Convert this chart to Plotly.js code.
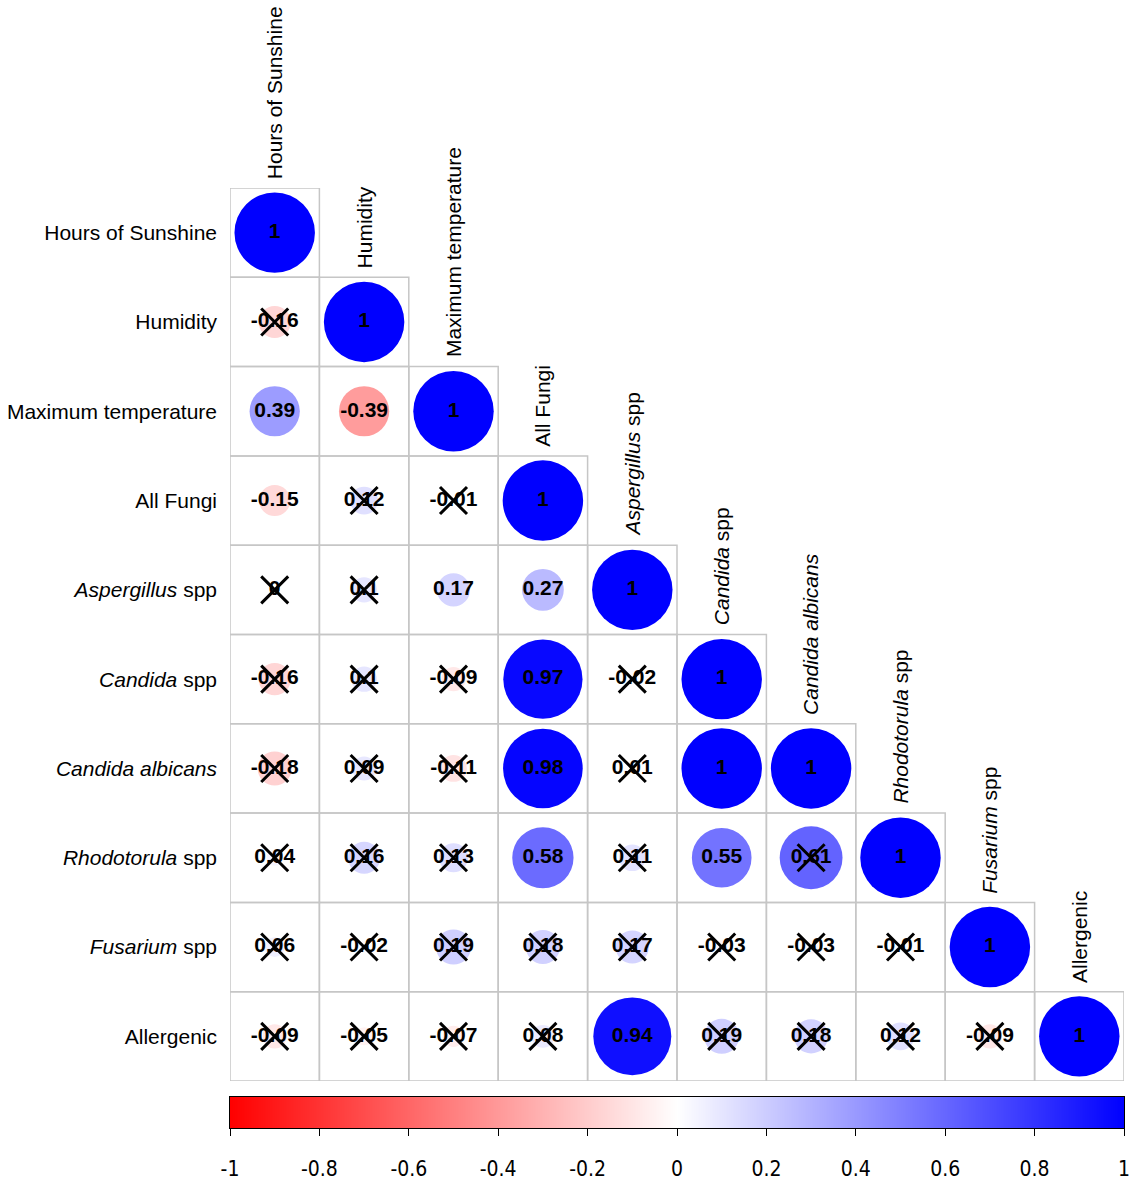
<!DOCTYPE html>
<html>
<head>
<meta charset="utf-8">
<script src="https://cdn.plot.ly/plotly-3.0.1.min.js"></script>
<style>html,body{margin:0;padding:0;background:#fff;}#chart{width:1131px;height:1182px;}</style>
</head>
<body>
<div id="chart"></div>
<script>
// ---- data ----
const variables = [
  "Hours of Sunshine",
  "Humidity",
  "Maximum temperature",
  "All Fungi",
  "<i>Aspergillus</i> spp",
  "<i>Candida</i> spp",
  "<i>Candida albicans</i>",
  "<i>Rhodotorula</i> spp",
  "<i>Fusarium</i> spp",
  "Allergenic"
];

// lower-triangle correlation coefficients (row i, columns 0..i)
const corrRows = [
  [1],
  [-0.16, 1],
  [0.39, -0.39, 1],
  [-0.15, 0.12, -0.01, 1],
  [0, 0.1, 0.17, 0.27, 1],
  [-0.16, 0.1, -0.09, 0.97, -0.02, 1],
  [-0.18, 0.09, -0.11, 0.98, 0.01, 1, 1],
  [0.04, 0.16, 0.13, 0.58, 0.11, 0.55, 0.61, 1],
  [0.06, -0.02, 0.19, 0.18, 0.17, -0.03, -0.03, -0.01, 1],
  [-0.09, -0.05, -0.07, 0.08, 0.94, 0.19, 0.18, 0.12, -0.09, 1]
];

// 1 = not significant (crossed out)
const notSignificant = [
  [0],
  [1, 0],
  [0, 0, 0],
  [0, 1, 1, 0],
  [1, 1, 0, 0, 0],
  [1, 1, 1, 0, 1, 0],
  [1, 1, 1, 0, 1, 0, 0],
  [1, 1, 1, 0, 1, 0, 1, 0],
  [1, 1, 1, 1, 1, 1, 1, 1, 0],
  [1, 1, 1, 1, 0, 1, 1, 1, 1, 0]
];

const colorStops = [-1, 0, 1];
const colorStopColors = ["#FF0000", "#FFFFFF", "#0000FF"];
const colorbarTicks = [-1, -0.8, -0.6, -0.4, -0.2, 0, 0.2, 0.4, 0.6, 0.8, 1];
const colorbarTickLabels = ["-1", "-0.8", "-0.6", "-0.4", "-0.2", "0", "0.2", "0.4", "0.6", "0.8", "1"];

// ---- helpers ----
function corrColor(v) {
  if (v >= 0) {
    const c = Math.round(255 * (1 - v));
    return "rgb(" + c + "," + c + ",255)";
  } else {
    const c = Math.round(255 * (1 + v));
    return "rgb(255," + c + "," + c + ")";
  }
}

const W = 1131, H = 1182;
const plotL = 230, plotR = 1124, plotT = 188, plotB = 1081;
const cbT = 1097, cbB = 1128;
const labelFont = {family: "Liberation Sans, Arial, sans-serif", size: 21, color: "#000"};

const shapes = [];
const textX = [], textY = [], textS = [];
const crossX = [], crossY = [];

corrRows.forEach((row, i) => {
  row.forEach((v, j) => {
    const x = j + 1, y = i + 1;
    shapes.push({
      type: "rect", xref: "x", yref: "y", layer: "below",
      x0: x - 0.5, x1: x + 0.5, y0: y - 0.5, y1: y + 0.5,
      line: {color: "#c6c6c6", width: 1.5}, fillcolor: "rgba(0,0,0,0)"
    });
  });
});
corrRows.forEach((row, i) => {
  row.forEach((v, j) => {
    const x = j + 1, y = i + 1;
    const r = 0.45 * Math.sqrt(Math.abs(v));
    if (r > 0) {
      shapes.push({
        type: "circle", xref: "x", yref: "y", layer: "below",
        x0: x - r, x1: x + r, y0: y - r, y1: y + r,
        line: {width: 0}, fillcolor: corrColor(v)
      });
    }
    textX.push(x); textY.push(y); textS.push(String(v));
    if (notSignificant[i][j]) { crossX.push(x); crossY.push(y); }
  });
});

const annotations = variables.map((name, j) => ({
  xref: "x", yref: "y", x: j + 1, y: j + 0.5,
  text: name, textangle: -90, showarrow: false,
  xanchor: "center", yanchor: "bottom", yshift: 7,
  font: labelFont
}));

const traces = [
  {
    type: "scatter", mode: "text", x: textX, y: textY, text: textS,
    textposition: "middle center", hoverinfo: "skip",
    textfont: {family: "Liberation Sans, Arial, sans-serif", size: 21, color: "#000", weight: 700},
    xaxis: "x", yaxis: "y", showlegend: false
  },
  {
    type: "scatter", mode: "markers", x: crossX, y: crossY, hoverinfo: "skip",
    marker: {symbol: "x-thin-open", size: 27, color: "#000", line: {color: "#000", width: 3}},
    xaxis: "x", yaxis: "y", showlegend: false
  },
  {
    type: "heatmap", x: colorStops, y: [0, 1], z: [colorStops, colorStops],
    zmin: -1, zmax: 1, zsmooth: "best", showscale: false, hoverinfo: "skip",
    colorscale: colorStops.map((s, k) => [(s + 1) / 2, colorStopColors[k]]),
    xaxis: "x2", yaxis: "y2"
  }
];

const layout = {
  width: W, height: H,
  margin: {l: 0, r: 0, t: 0, b: 0},
  paper_bgcolor: "#fff", plot_bgcolor: "rgba(0,0,0,0)",
  showlegend: false,
  xaxis: {
    domain: [plotL / W, plotR / W], range: [0.5, 10.5], anchor: "y",
    showgrid: false, zeroline: false, showticklabels: false, ticks: "", showline: false, fixedrange: true
  },
  yaxis: {
    domain: [1 - plotB / H, 1 - plotT / H], range: [10.5, 0.5], anchor: "x",
    showgrid: false, zeroline: false, showline: false, ticks: "",
    tickvals: variables.map((_, i) => i + 1), ticktext: variables,
    ticklabelstandoff: 12,
    tickfont: labelFont,
    fixedrange: true
  },
  xaxis2: {
    domain: [plotL / W, plotR / W], range: [-1, 1], anchor: "y2",
    showgrid: false, zeroline: false, showline: true, mirror: true, linecolor: "#000", linewidth: 1,
    ticks: "outside", ticklen: 7, tickwidth: 1, tickcolor: "#000",
    tickvals: colorbarTicks, ticktext: colorbarTickLabels, ticklabelstandoff: 15,
    tickfont: {family: "DejaVu Sans Condensed, Liberation Sans Narrow, Liberation Sans, sans-serif", size: 21, color: "#000"},
    fixedrange: true
  },
  yaxis2: {
    domain: [1 - cbB / H, 1 - cbT / H], range: [0, 1], anchor: "x2",
    showgrid: false, zeroline: false, showline: true, mirror: true, linecolor: "#000", linewidth: 1,
    showticklabels: false, ticks: "", fixedrange: true
  },
  shapes: shapes,
  annotations: annotations
};

Plotly.newPlot("chart", traces, layout, {displayModeBar: false, staticPlot: true});
</script>
</body>
</html>
